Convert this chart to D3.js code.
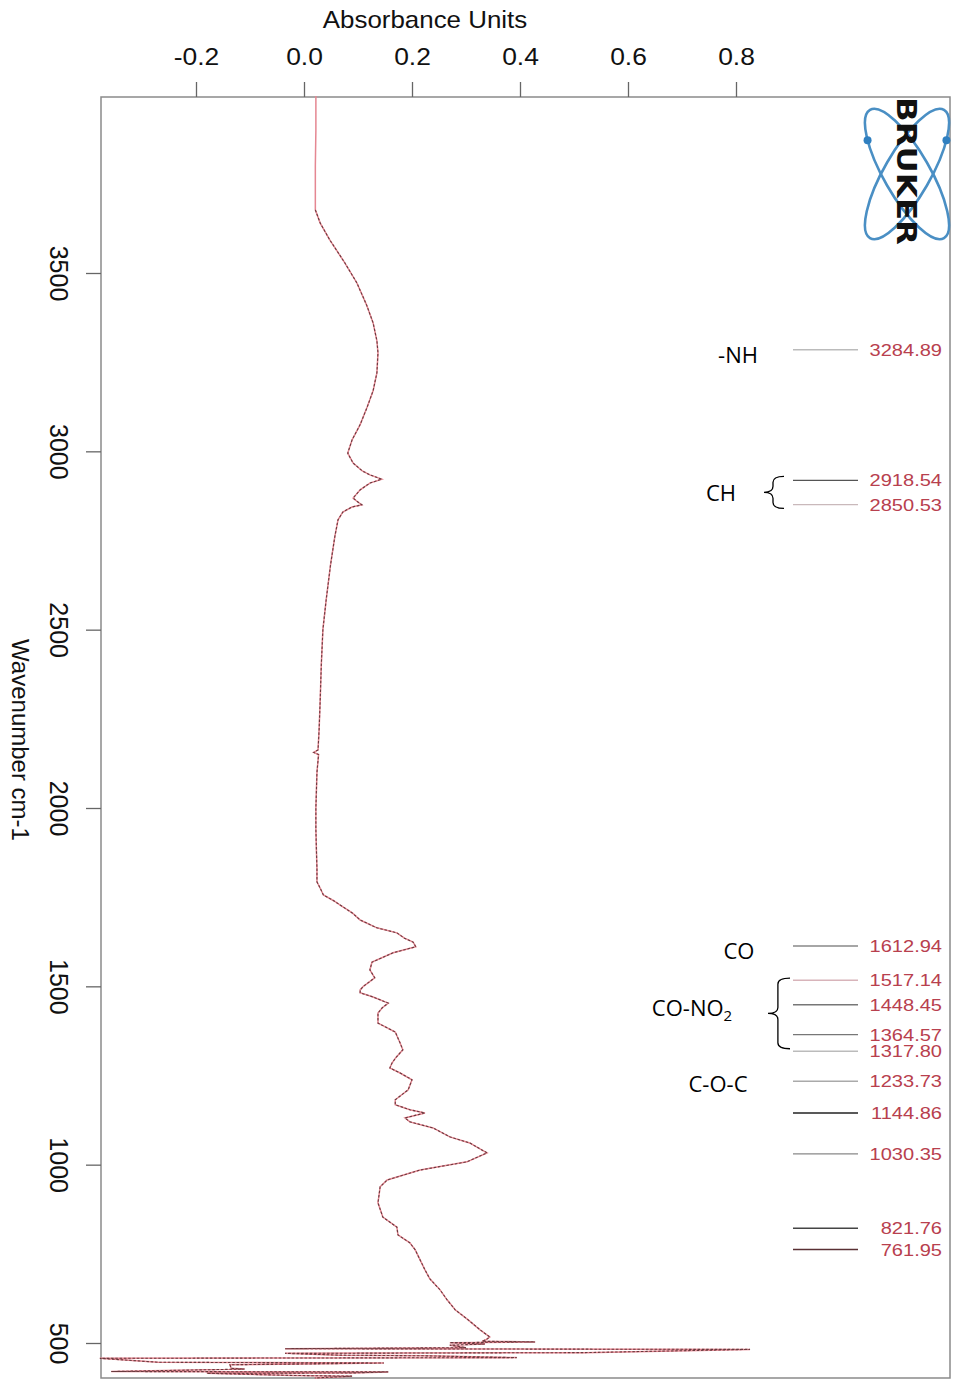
<!DOCTYPE html>
<html>
<head>
<meta charset="utf-8">
<script src="https://cdn.jsdelivr.net/npm/d3@7"></script>
<style>
  html, body { margin: 0; padding: 0; background: #fff; }
  svg { display: block; }
</style>
</head>
<body>
<div id="chart"></div>
<script>
// spectrum (wavenumber cm-1 / absorbance)
var wavenumbers = [3996, 3900, 3800, 3700, 3677, 3640, 3592, 3530, 3472, 3410, 3360, 3310, 3276, 3220, 3170, 3124, 3075, 3032, 2995, 2967,
    2945, 2934, 2922, 2911, 2892, 2869, 2860, 2850, 2844, 2830, 2808, 2760, 2680, 2583, 2500, 2400, 2303, 2220, 2163, 2156,
    2150, 2100, 2000, 1940, 1882, 1830, 1793, 1775, 1756, 1740, 1728, 1705, 1686, 1664, 1650, 1635, 1624, 1611, 1594, 1568,
    1546, 1524, 1500, 1490, 1482, 1470, 1453, 1440, 1425, 1397, 1372, 1341, 1322, 1300, 1285, 1271, 1257, 1238, 1210, 1182,
    1168, 1154, 1145, 1131, 1120, 1103, 1078, 1061, 1045, 1033, 1008, 985, 957, 938, 893, 853, 825, 803, 781, 761,
    733, 705, 680, 649, 621, 593, 565, 537, 517, 510, 505, 503, 501, 497, 494, 487, 484, 482, 473, 471,
    466, 464, 459, 457, 446, 444, 441, 439, 429, 427, 420, 419, 416, 415, 409, 407, 402];
var absorbance = [0.022, 0.022, 0.021, 0.021, 0.021, 0.030, 0.048, 0.075, 0.098, 0.116, 0.128, 0.135, 0.137, 0.135, 0.128, 0.117, 0.104, 0.089, 0.081, 0.091,
    0.108, 0.122, 0.144, 0.122, 0.104, 0.091, 0.098, 0.107, 0.089, 0.072, 0.063, 0.057, 0.049, 0.041, 0.035, 0.032, 0.030, 0.028, 0.026, 0.018,
    0.027, 0.024, 0.022, 0.022, 0.023, 0.024, 0.024, 0.030, 0.036, 0.055, 0.067, 0.090, 0.104, 0.135, 0.172, 0.186, 0.202, 0.207, 0.165, 0.126,
    0.122, 0.131, 0.110, 0.104, 0.104, 0.128, 0.156, 0.145, 0.137, 0.137, 0.169, 0.178, 0.183, 0.170, 0.163, 0.159, 0.178, 0.200, 0.193, 0.169,
    0.169, 0.196, 0.224, 0.187, 0.196, 0.239, 0.270, 0.307, 0.325, 0.339, 0.302, 0.215, 0.154, 0.141, 0.137, 0.146, 0.172, 0.174, 0.196, 0.206,
    0.215, 0.224, 0.233, 0.252, 0.265, 0.280, 0.304, 0.326, 0.344, 0.338, 0.330, 0.428, 0.270, 0.335, 0.270, 0.300, -0.035, 0.826, 0.519, -0.035,
    0.065, 0.226, 0.394, -0.378, -0.270, 0.148, 0.000, -0.137, -0.135, -0.110, -0.357, 0.156, 0.089, -0.180, -0.020, 0.089, 0.020];

// picked peaks
var peakPositions = [3284.89, 2918.54, 2850.53, 1612.94, 1517.14, 1448.45, 1364.57, 1317.80, 1233.73, 1144.86, 1030.35, 821.76, 761.95];
var peakLabels = ["3284.89", "2918.54", "2850.53", "1612.94", "1517.14", "1448.45", "1364.57", "1317.80", "1233.73", "1144.86", "1030.35", "821.76", "761.95"];
var peakLineColors = ["#bbb", "#555", "#c9b9bb", "#888", "#d8b4ba", "#777", "#777", "#bbb", "#aaa", "#222", "#888", "#444", "#5a3034"];

// group annotations
var groupNames = ["-NH", "CH", "CO", "CO-NO", "C-O-C"];
var groupAt = [3270, 2884, 1600, 1440, 1226];
var braceFrom = [null, 2930, null, 1523, null];
var braceTo = [null, 2840, null, 1325, null];

var xTicks = [-0.2, 0.0, 0.2, 0.4, 0.6, 0.8];
var yTicks = [3500, 3000, 2500, 2000, 1500, 1000, 500];

var W = 953, H = 1379;
var frame = {left: 101, top: 97, right: 950, bottom: 1378};

var svg = d3.select('#chart').append('svg')
    .attr('width', W)
    .attr('height', H);

var x = d3.scaleLinear().domain([-0.2, 0.8]).range([196, 736]);
var y = d3.scaleLinear().domain([3500, 500]).range([273, 1343]);

var axisFont = "'Liberation Sans', Arial, sans-serif";

// frame
svg.append('rect')
    .attr('x', frame.left).attr('y', frame.top)
    .attr('width', frame.right - frame.left).attr('height', frame.bottom - frame.top)
    .attr('fill', 'none').attr('stroke', '#8a8a8a').attr('stroke-width', 1.5);

// top axis
var gx = svg.append('g')
    .attr('transform', 'translate(0,' + frame.top + ')')
    .call(d3.axisTop(x).tickValues(xTicks).tickSize(15).tickPadding(17)
        .tickFormat(function (d) { return d.toFixed(1); }));
gx.select('.domain').remove();
gx.selectAll('.tick line').attr('stroke', '#666').attr('stroke-width', 1.3);
gx.selectAll('.tick text')
    .attr('fill', '#111')
    .attr('transform', 'scale(1.1,1)')
    .style('font-family', axisFont)
    .style('font-size', '24px');

svg.append('text')
    .attr('transform', 'translate(425,28) scale(1.08,1)')
    .attr('text-anchor', 'middle')
    .style('font-family', axisFont)
    .style('font-size', '24px')
    .attr('fill', '#111')
    .text('Absorbance Units');

// left axis
var gy = svg.append('g')
    .attr('transform', 'translate(' + frame.left + ',0)')
    .call(d3.axisLeft(y).tickValues(yTicks).tickSize(15).tickFormat(d3.format('d')));
gy.select('.domain').remove();
gy.selectAll('.tick line').attr('stroke', '#666').attr('stroke-width', 1.3);
gy.selectAll('.tick text')
    .attr('x', null).attr('dy', null)
    .attr('text-anchor', 'middle')
    .attr('transform', 'translate(-51,0) rotate(90)')
    .attr('fill', '#111')
    .style('font-family', axisFont)
    .style('font-size', '25px');

svg.append('text')
    .attr('transform', 'translate(12,740) rotate(90)')
    .attr('text-anchor', 'middle')
    .style('font-family', axisFont)
    .style('font-size', '24px')
    .attr('fill', '#111')
    .text('Wavenumber cm-1');

// spectrum
var pts = wavenumbers.map(function (w, i) { return [w, absorbance[i]]; });
var line = d3.line()
    .x(function (d) { return x(d[1]); })
    .y(function (d) { return y(d[0]); });

svg.append('path')
    .datum(pts)
    .attr('d', line)
    .attr('fill', 'none')
    .attr('stroke', '#e58792')
    .attr('stroke-width', 1.5);
svg.append('path')
    .datum(pts.filter(function (d) { return d[0] < 3690; }))
    .attr('d', line)
    .attr('fill', 'none')
    .attr('stroke', '#6a3a3e')
    .attr('stroke-width', 1.1)
    .attr('stroke-dasharray', '2.5,1.8');

// peak picks
var peaks = svg.append('g');
peaks.selectAll('line')
    .data(peakPositions)
    .enter().append('line')
    .attr('x1', 793).attr('x2', 858)
    .attr('y1', function (d) { return y(d); })
    .attr('y2', function (d) { return y(d); })
    .attr('stroke', function (d, i) { return peakLineColors[i]; })
    .attr('stroke-width', 1.4);
peaks.selectAll('text')
    .data(peakPositions)
    .enter().append('text')
    .attr('transform', function (d) { return 'translate(942,' + (y(d) + 6) + ') scale(1.18,1)'; })
    .attr('text-anchor', 'end')
    .style('font-family', axisFont)
    .style('font-size', '17px')
    .attr('fill', '#b8404e')
    .text(function (d, i) { return peakLabels[i]; });

// group names + braces
var annFont = "'Open Sans', 'Noto Sans', sans-serif";
var ann = svg.append('g');
var annX = [738, 721, 739, 692, 718];
groupNames.forEach(function (name, i) {
    var t = ann.append('text')
        .attr('x', annX[i])
        .attr('y', y(groupAt[i]) + 8)
        .attr('text-anchor', 'middle')
        .style('font-family', annFont)
        .style('font-size', '22px')
        .attr('fill', '#000')
        .text(name);
    if (name === 'CO-NO') {
        t.append('tspan').attr('dy', 5).style('font-size', '15px').text('2');
    }
});

function bracePath(xr, y1, y2, w) {
    var xm = xr - w * 0.55, xl = xr - w, ym = (y1 + y2) / 2, r = Math.min(6, (y2 - y1) / 4);
    return 'M' + xr + ',' + y1 + ' Q' + xm + ',' + y1 + ' ' + xm + ',' + (y1 + r) +
        ' L' + xm + ',' + (ym - r) + ' Q' + xm + ',' + ym + ' ' + xl + ',' + ym +
        ' Q' + xm + ',' + ym + ' ' + xm + ',' + (ym + r) +
        ' L' + xm + ',' + (y2 - r) + ' Q' + xm + ',' + y2 + ' ' + xr + ',' + y2;
}
braceFrom.forEach(function (b, i) {
    if (b === null) return;
    var xr = (i === 1) ? 784 : 790;
    var w = (i === 1) ? 20 : 22;
    ann.append('path')
        .attr('d', bracePath(xr, y(b), y(braceTo[i]), w))
        .attr('fill', 'none')
        .attr('stroke', '#000')
        .attr('stroke-width', 1.3);
});

// logo: two tilted orbits with a dot on each, name written down the middle
var logo = svg.append('g').attr('transform', 'translate(907,174)');
var orbitA = 74, orbitB = 23, orbitTilt = 60;
[orbitTilt, -orbitTilt].forEach(function (a) {
    logo.append('ellipse')
        .attr('rx', orbitA).attr('ry', orbitB)
        .attr('transform', 'rotate(' + a + ')')
        .attr('fill', 'none').attr('stroke', '#4a8fc4').attr('stroke-width', 2.6);
    // dot on the outer side of the orbit, upper half
    var th = a * Math.PI / 180, best = null;
    for (var k = 0; k < 720; k++) {
        var t = k * Math.PI / 360;
        var px = orbitA * Math.cos(t) * Math.cos(th) - orbitB * Math.sin(t) * Math.sin(th);
        var py = orbitA * Math.cos(t) * Math.sin(th) + orbitB * Math.sin(t) * Math.cos(th);
        if (py < -20 && py > -34 && (best === null || Math.abs(px) > Math.abs(best[0]))) best = [px, py];
    }
    if (best) logo.append('circle').attr('cx', best[0]).attr('cy', best[1]).attr('r', 4).attr('fill', '#2f7fc0');
});
logo.append('text')
    .attr('transform', 'translate(-10,-77) rotate(90)')
    .attr('x', 0).attr('y', 0)
    .attr('textLength', 148)
    .attr('lengthAdjust', 'spacingAndGlyphs')
    .style('font-family', "'DejaVu Sans', sans-serif")
    .style('font-weight', 'bold')
    .style('font-size', '26px')
    .attr('fill', '#111')
    .text('BRUKER');
</script>
</body>
</html>
